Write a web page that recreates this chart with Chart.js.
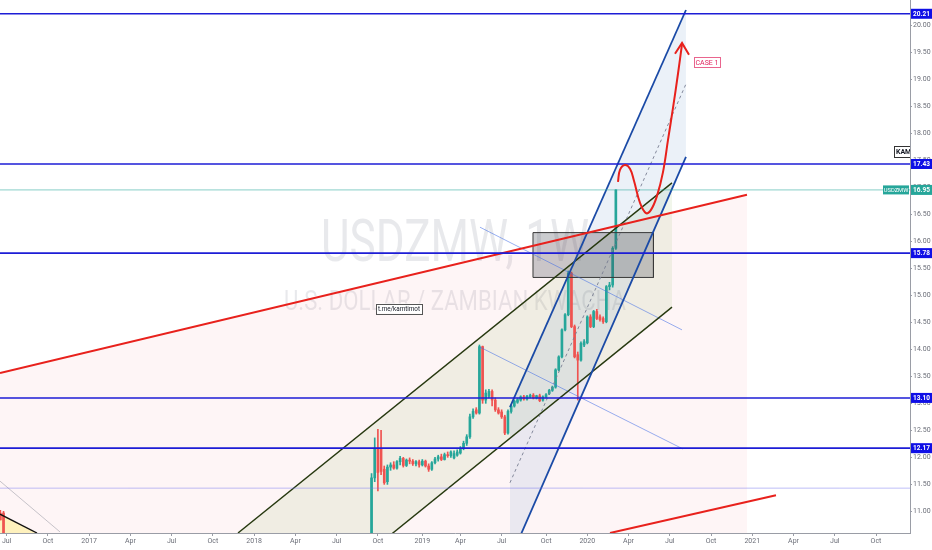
<!DOCTYPE html>
<html>
<head>
<meta charset="utf-8">
<script src="https://cdn.jsdelivr.net/npm/chart.js@4.4.1/dist/chart.umd.min.js"></script>
<style>
  html, body { margin: 0; padding: 0; background: #fff; }
  #wrap { width: 932px; height: 550px; }
</style>
</head>
<body>
<div id="wrap"><canvas id="usdzmwChart"></canvas></div>
<script>
// x values are days counted from 2016-01-01
const X_MIN = 170.22;
const X_MAX = 2178.0;
const Y_MIN = 10.60;
const Y_MAX = 20.465;

// time axis ticks (first weekly bar of the month)
const tickDates = ['2016-07-04', '2016-10-03', '2017-01-02', '2017-04-03', '2017-07-03', '2017-10-02',
    '2018-01-01', '2018-04-02', '2018-07-02', '2018-10-01', '2019-01-07', '2019-04-01', '2019-07-01',
    '2019-10-07', '2020-01-06', '2020-04-06', '2020-07-06', '2020-10-05', '2021-01-04', '2021-04-05',
    '2021-07-05', '2021-10-04'];
const tickLabels = ['Jul', 'Oct', '2017', 'Apr', 'Jul', 'Oct', '2018', 'Apr', 'Jul', 'Oct', '2019', 'Apr',
    'Jul', 'Oct', '2020', 'Apr', 'Jul', 'Oct', '2021', 'Apr', 'Jul', 'Oct'];
const priceTicks = [11.00, 11.50, 12.00, 12.50, 13.00, 13.50, 14.00, 14.50, 15.00, 15.50, 16.00, 16.50,
    17.00, 17.50, 18.00, 18.50, 19.00, 19.50, 20.00];

// two old weekly candles at the left edge
const oldWeeks = ['2016-06-20', '2016-06-27'];
const oldOpens = [10.97, 10.97];
const oldHighs = [11.02, 11.00];
const oldLows = [10.84, 10.40];
const oldCloses = [10.84, 10.45];

// weekly candles, first week 2018-09-17
const candleStart = '2018-09-17';
const opens = [10.45, 11.62, 12.17, 12.16, 11.78, 11.55, 11.82, 11.86, 11.80, 11.92,
    11.98, 11.85, 11.95, 11.93, 11.88, 11.92, 11.86, 11.93, 11.84, 11.78,
    11.90, 11.97, 12.01, 11.96, 12.05, 12.03, 11.99, 12.04, 12.08, 12.17,
    12.26, 12.38, 12.75, 12.88, 12.82, 14.05, 13.06, 13.13, 13.22, 13.06,
    12.88, 12.84, 12.75, 12.45, 12.85, 12.95, 13.02, 13.06, 13.12, 13.08,
    13.12, 13.15, 13.10, 13.14, 13.06, 13.12, 13.18, 13.24, 13.30, 13.62,
    13.86, 14.36, 14.64, 15.41, 14.42, 13.90, 13.80, 14.08, 14.12, 14.60,
    14.42, 14.70, 14.60, 14.57, 14.51, 15.16, 15.19, 15.87];
const highs = [11.70, 12.36, 12.52, 12.50, 11.84, 11.86, 11.90, 11.92, 11.94, 12.02,
    12.00, 11.97, 11.99, 11.96, 11.94, 11.95, 11.96, 11.95, 11.88, 11.92,
    12.00, 12.04, 12.06, 12.08, 12.10, 12.12, 12.12, 12.14, 12.20, 12.30,
    12.42, 12.80, 12.90, 12.92, 14.08, 14.06, 13.25, 13.26, 13.25, 13.10,
    12.92, 12.88, 12.78, 12.88, 12.97, 13.06, 13.09, 13.14, 13.15, 13.15,
    13.17, 13.18, 13.15, 13.17, 13.14, 13.18, 13.26, 13.32, 13.64, 13.88,
    14.38, 14.66, 15.45, 15.43, 14.45, 13.95, 14.14, 14.18, 14.62, 14.64,
    14.72, 14.74, 14.64, 14.60, 15.18, 15.24, 15.90, 16.95];
const lows = [10.40, 11.55, 11.38, 11.68, 11.50, 11.50, 11.76, 11.78, 11.78, 11.86,
    11.82, 11.83, 11.88, 11.85, 11.84, 11.82, 11.84, 11.82, 11.74, 11.76,
    11.88, 11.93, 11.94, 11.95, 12.00, 12.00, 11.97, 12.02, 12.06, 12.14,
    12.22, 12.35, 12.72, 12.80, 12.80, 13.00, 13.00, 13.10, 12.95, 12.85,
    12.80, 12.72, 12.42, 12.43, 12.82, 12.93, 13.00, 13.04, 13.06, 13.06,
    13.10, 13.08, 13.08, 13.03, 13.04, 13.10, 13.16, 13.22, 13.28, 13.60,
    13.84, 14.34, 14.62, 14.40, 13.84, 13.06, 13.78, 14.05, 14.10, 14.40,
    14.40, 14.55, 14.52, 14.48, 14.49, 15.10, 15.15, 15.85];
const closes = [11.62, 12.17, 11.72, 11.74, 11.53, 11.82, 11.86, 11.80, 11.92, 11.98,
    11.85, 11.95, 11.93, 11.88, 11.92, 11.86, 11.93, 11.84, 11.78, 11.90,
    11.97, 12.01, 11.96, 12.05, 12.03, 12.10, 12.07, 12.10, 12.17, 12.26,
    12.38, 12.75, 12.85, 12.82, 14.05, 13.06, 13.19, 13.22, 13.06, 12.88,
    12.82, 12.75, 12.45, 12.85, 12.95, 13.04, 13.07, 13.12, 13.08, 13.13,
    13.15, 13.10, 13.14, 13.05, 13.12, 13.16, 13.24, 13.30, 13.62, 13.86,
    14.36, 14.64, 15.41, 14.42, 13.86, 13.80, 14.11, 14.14, 14.60, 14.42,
    14.70, 14.57, 14.55, 14.51, 15.16, 15.19, 15.87, 16.95];

// horizontal levels
const levels = [20.21, 17.43, 15.78, 13.10, 12.17];
const levelTexts = ['20.21', '17.43', '15.78', '13.10', '12.17'];
const lastPrice = 16.95;
const faintLevel = 11.43;

// drawings, points are [day, price]
const redTop = [[170.2, 13.56], [1818.3, 16.86]];
const redBottom = [[1516.1, 10.60], [1882.3, 11.30]];
const greenUpper = [[695.3, 10.60], [1652.9, 17.08]];
const greenLower = [[695.3, 8.28], [1652.9, 14.78]];
const blueUpper = [[1295.4, 12.93], [1683.7, 20.28]];
const blueLower = [[1295.4, 10.11], [1683.7, 17.56]];
const blueMid = [[1295.4, 11.53], [1683.7, 18.91]];
const thinUpper = [[1229.2, 16.26], [1674.9, 14.36]];
const thinLower = [[1229.2, 14.04], [1677.1, 12.155]];
const blackLeft = [[170.2, 10.95], [251.9, 10.60]];
const greyLeft = [[170.2, 11.56], [302.6, 10.62]];
const boxTop = [[1346.2, 16.16], [1612.0, 16.16]];
const boxBottom = [[1346.2, 15.33], [1612.0, 15.33]];
const boxEdge = [[1346.2, 16.16], [1612.0, 16.16], [1612.0, 15.33], [1346.2, 15.33], [1346.2, 16.16]];
const casePath = [[1533.7, 17.10], [1538.1, 17.32], [1549.2, 17.41], [1560.2, 17.34], [1569.0, 17.12],
    [1582.3, 16.71], [1595.5, 16.52], [1606.5, 16.58], [1619.8, 16.84], [1633.0, 17.28],
    [1644.0, 17.87], [1655.1, 18.47], [1666.1, 19.10], [1675.0, 19.65]];
const caseArrow = [[1659.5, 19.47], [1675.0, 19.67], [1690.4, 19.45]];

// notes
const notes = [
    {text: 't.me/kamtimot', x: 1050.5, y: 14.755, color: '#131722', border: '#555', w: 46, size: 6.3},
    {text: 'CASE 1', x: 1730.1, y: 19.31, color: '#e0245e', border: 'rgba(224,36,94,0.7)', w: 26, size: 7}
];
const sideNote = {text: 'KAMTIMOT', x: 2142.6, y: 17.66};

const UP = '#26a69a';
const DOWN = '#ef5350';
const LEVEL_BLUE = '#1d1dd6';

function dayOf(str){
    const p = str.split('-').map(Number);
    return (Date.UTC(p[0], p[1] - 1, p[2]) - Date.UTC(2016, 0, 1)) / 86400000;
}

const tickDays = tickDates.map(dayOf);

// CANDLES
const days = oldWeeks.map(dayOf);
const start = dayOf(candleStart);
opens.forEach((o, i) => days.push(start + 7 * i));
const O = oldOpens.concat(opens);
const H = oldHighs.concat(highs);
const L = oldLows.concat(lows);
const C = oldCloses.concat(closes);
const candleColors = O.map((o, i) => C[i] >= o ? UP : DOWN);

function pts(list){
    return list.map(p => ({x: p[0], y: p[1]}));
}

function lineSet(list, color, width, order, extra){
    return Object.assign({
        type: 'line',
        data: pts(list),
        borderColor: color,
        borderWidth: width,
        pointRadius: 0,
        fill: false,
        tension: 0,
        order: order
    }, extra || {});
}

const datasets = [];

// FILLS
datasets.push(lineSet(redTop, 'transparent', 0, 50, {fill: 'start', backgroundColor: 'rgba(242,54,69,0.05)'}));
datasets.push(lineSet(greenUpper, 'transparent', 0, 45, {fill: '+1', backgroundColor: 'rgba(120,165,60,0.10)'}));
datasets.push(lineSet(greenLower, 'transparent', 0, 45));
datasets.push(lineSet(blueUpper, 'transparent', 0, 44, {fill: '+1', backgroundColor: 'rgba(33,100,180,0.09)'}));
datasets.push(lineSet(blueLower, 'transparent', 0, 44));
datasets.push(lineSet(blackLeft, 'transparent', 0, 44, {fill: 'start', backgroundColor: 'rgba(255,238,120,0.45)'}));

// CANDLES
datasets.push({
    type: 'bar',
    data: days.map((d, i) => ({x: d, y: [L[i], H[i]]})),
    backgroundColor: candleColors,
    barThickness: 1,
    grouped: false,
    order: 31
});
datasets.push({
    type: 'bar',
    data: days.map((d, i) => ({x: d, y: [O[i], C[i]]})),
    backgroundColor: candleColors,
    barThickness: 2,
    minBarLength: 1,
    grouped: false,
    order: 30
});

// BOX
datasets.push(lineSet(boxTop, 'transparent', 0, 20, {fill: '+1', backgroundColor: 'rgba(70,72,82,0.28)'}));
datasets.push(lineSet(boxBottom, 'transparent', 0, 20));
datasets.push(lineSet(boxEdge, '#3a3a3a', 1, 19));

// TREND LINES
datasets.push(lineSet(greenUpper, '#26380f', 1.4, 10));
datasets.push(lineSet(greenLower, '#26380f', 1.4, 10));
datasets.push(lineSet(thinUpper, 'rgba(66,110,230,0.55)', 1, 10));
datasets.push(lineSet(thinLower, 'rgba(66,110,230,0.55)', 1, 10));
datasets.push(lineSet(greyLeft, 'rgba(160,160,170,0.6)', 1, 10));
datasets.push(lineSet(blackLeft, '#111', 1.4, 10));
datasets.push(lineSet(blueMid, 'rgba(120,125,145,0.9)', 1, 9, {borderDash: [3, 3]}));
datasets.push(lineSet(blueUpper, '#1a4aa6', 1.8, 8));
datasets.push(lineSet(blueLower, '#1a4aa6', 1.8, 8));
datasets.push(lineSet(redTop, '#e8211c', 2, 7));
datasets.push(lineSet(redBottom, '#e8211c', 2, 7));

// LEVELS
datasets.push(lineSet([[X_MIN, faintLevel], [X_MAX, faintLevel]], 'rgba(110,110,240,0.45)', 1, 6));
datasets.push(lineSet([[X_MIN, lastPrice], [X_MAX, lastPrice]], 'rgba(38,166,154,0.55)', 1, 6));
levels.forEach(v => {
    datasets.push(lineSet([[X_MIN, v], [X_MAX, v]], LEVEL_BLUE, 1.6, 5));
});

// CASE 1 PATH
datasets.push(lineSet(casePath, '#e8211c', 2, 1, {tension: 0.4}));
datasets.push(lineSet(caseArrow, '#e8211c', 2, 1));

function tag(ctx, x, y, w, h, bg, fg, text, bold, size){
    ctx.fillStyle = bg;
    ctx.fillRect(x, y - h / 2, w, h);
    ctx.fillStyle = fg;
    ctx.font = (bold ? 'bold ' : '') + (size || 7) + 'px Roboto';
    ctx.textAlign = 'center';
    ctx.textBaseline = 'middle';
    ctx.fillText(text, x + w / 2, y + 0.5);
}

function stretchText(ctx, text, cx, baseY, size, width){
    ctx.font = size + 'px Roboto';
    const w = ctx.measureText(text).width;
    ctx.save();
    ctx.translate(cx, baseY);
    ctx.scale(width / w, 1);
    ctx.textAlign = 'center';
    ctx.textBaseline = 'alphabetic';
    ctx.fillText(text, 0, 0);
    ctx.restore();
}

const overlayPlugin = {
    id: 'overlay',

    beforeDatasetsDraw(chart){
        const ctx = chart.ctx;
        const a = chart.chartArea;
        const cx = (a.left + a.right) / 2;
        const cy = (a.top + a.bottom) / 2;
        ctx.save();
        ctx.fillStyle = 'rgba(120,124,140,0.17)';
        stretchText(ctx, 'USDZMW, 1W', cx, cy - 6, 60, 268);
        stretchText(ctx, 'U.S. DOLLAR / ZAMBIAN KWACHA', cx, cy + 43, 28, 342);
        ctx.restore();
    },

    afterDatasetsDraw(chart){
        const ctx = chart.ctx;
        const a = chart.chartArea;
        const xs = chart.scales.x;
        const ys = chart.scales.y;
        ctx.save();
        ctx.beginPath();
        ctx.rect(a.left, a.top, a.right - a.left, a.bottom - a.top);
        ctx.clip();

        notes.forEach(n => {
            const px = xs.getPixelForValue(n.x);
            const py = ys.getPixelForValue(n.y);
            ctx.fillStyle = '#fff';
            ctx.fillRect(px - n.w / 2, py - 5, n.w, 10);
            ctx.strokeStyle = n.border;
            ctx.lineWidth = 1;
            ctx.strokeRect(Math.round(px - n.w / 2) + 0.5, Math.round(py - 5) + 0.5, n.w, 10);
            ctx.fillStyle = n.color;
            ctx.font = n.size + 'px Roboto';
            ctx.textAlign = 'center';
            ctx.textBaseline = 'middle';
            ctx.fillText(n.text, px, py + 0.5);
        });

        // label cut by the price axis
        const kx = xs.getPixelForValue(sideNote.x);
        const ky = ys.getPixelForValue(sideNote.y);
        ctx.fillStyle = '#fff';
        ctx.fillRect(kx, ky - 5.5, 40, 11);
        ctx.strokeStyle = '#333';
        ctx.strokeRect(Math.round(kx) + 0.5, Math.round(ky - 5.5) + 0.5, 40, 11);
        ctx.fillStyle = '#131722';
        ctx.font = 'bold 7px Roboto';
        ctx.textAlign = 'left';
        ctx.textBaseline = 'middle';
        ctx.fillText(sideNote.text, kx + 2, ky + 0.5);

        // symbol tag next to the last price
        const ly = ys.getPixelForValue(lastPrice);
        tag(ctx, a.right - 27, ly, 26, 9, UP, '#fff', 'USDZMW', false, 5.8);
        ctx.restore();
    },

    afterDraw(chart){
        const ctx = chart.ctx;
        const ys = chart.scales.y;
        ctx.save();
        levels.forEach((v, i) => {
            tag(ctx, ys.left + 1, ys.getPixelForValue(v), ys.right - ys.left - 1, 10, '#0f0fe6', '#fff', levelTexts[i], true, 6.5);
        });
        tag(ctx, ys.left + 1, ys.getPixelForValue(lastPrice), ys.right - ys.left - 1, 10, UP, '#fff', lastPrice.toFixed(2), true, 6.5);
        ctx.restore();
    }
};

new Chart(document.getElementById('usdzmwChart'), {

    type: 'bar',

    data: { datasets: datasets },

    options: {

        responsive: true,
        maintainAspectRatio: false,
        animation: false,
        events: [],
        layout: { padding: 0 },

        plugins: {
            legend: { display: false },
            tooltip: { enabled: false }
        },

        scales: {

            x: {
                type: 'linear',
                position: 'bottom',
                min: X_MIN,
                max: X_MAX,
                offset: false,
                afterBuildTicks: s => { s.ticks = tickDays.map(v => ({value: v})); },
                afterFit: s => { s.height = 17; s.paddingLeft = 0; s.paddingRight = 0; },
                ticks: {
                    autoSkip: false,
                    maxRotation: 0,
                    minRotation: 0,
                    padding: 1,
                    color: '#6b6e78',
                    font: { size: 7, family: 'Roboto' },
                    callback: (v, i) => tickLabels[i]
                },
                grid: { offset: false, drawOnChartArea: false, drawTicks: true, tickLength: 3, color: '#9a9da6' },
                border: { display: true, color: '#9a9da6' }
            },

            y: {
                type: 'linear',
                position: 'right',
                min: Y_MIN,
                max: Y_MAX,
                afterBuildTicks: s => { s.ticks = priceTicks.map(v => ({value: v})); },
                afterFit: s => { s.width = 22; s.paddingTop = 0; s.paddingBottom = 0; },
                ticks: {
                    padding: 1,
                    color: '#6b6e78',
                    font: { size: 7, family: 'Roboto' },
                    callback: v => Number(v).toFixed(2)
                },
                grid: { drawOnChartArea: false, drawTicks: true, tickLength: 2, color: '#9a9da6' },
                border: { display: true, color: '#9a9da6' }
            }

        }

    },

    plugins: [overlayPlugin]

});
</script>
</body>
</html>
